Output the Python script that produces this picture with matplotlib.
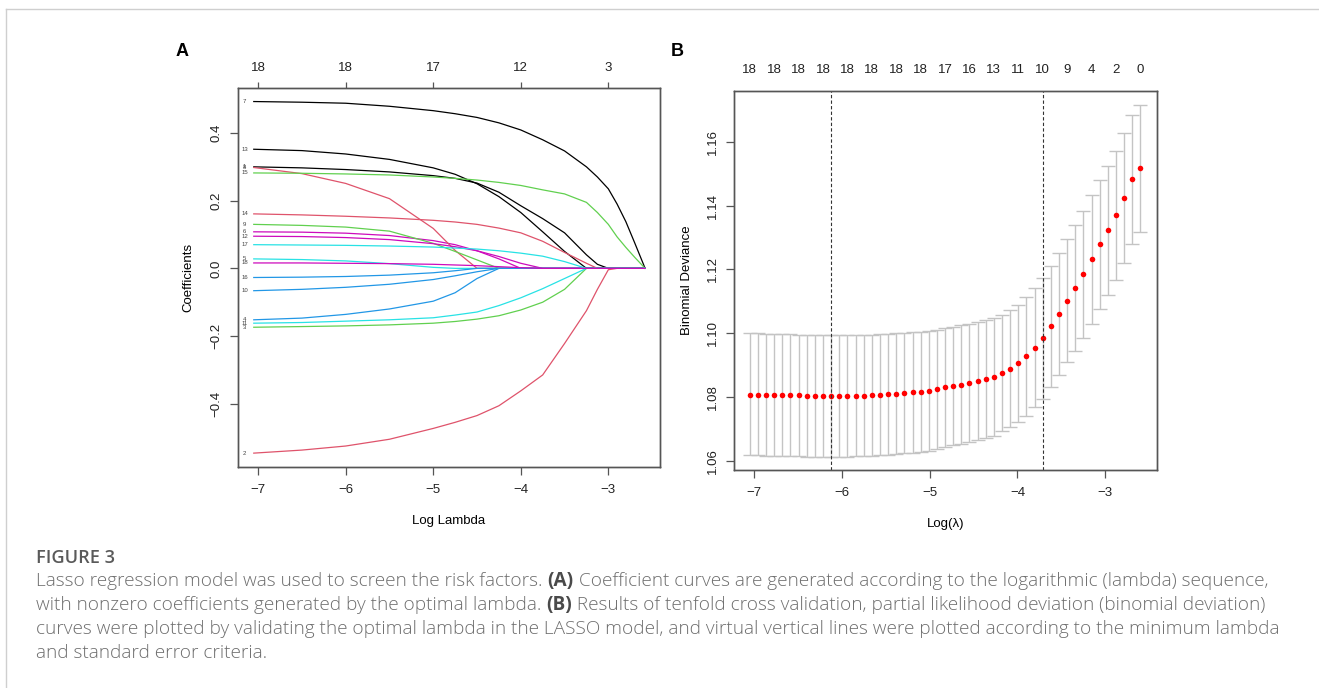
import matplotlib
matplotlib.use("Agg")
import matplotlib.pyplot as plt
from matplotlib.lines import Line2D

W, H = 1319, 688

# ---------- panel A: coefficient paths ----------
path_loglam = [-7.05, -6.5, -6.0, -5.5, -5.0, -4.75, -4.5, -4.25, -4.0, -3.75, -3.5, -3.25,
               -3.125, -3.0, -2.9, -2.8, -2.7, -2.58]
coef_1 = [0.300, 0.297, 0.292, 0.285, 0.274, 0.266, 0.252, 0.225, 0.185, 0.147, 0.105, 0.040, 0.012, 0, 0, 0, 0, 0]
coef_2 = [-0.546, -0.537, -0.525, -0.505, -0.473, -0.455, -0.435, -0.406, -0.362, -0.315, -0.222, -0.125, -0.062, -0.004, 0, 0, 0, 0]
coef_3 = [-0.174, -0.172, -0.170, -0.167, -0.162, -0.157, -0.150, -0.140, -0.123, -0.100, -0.062, 0, 0, 0, 0, 0, 0, 0]
coef_4 = [-0.152, -0.147, -0.136, -0.120, -0.097, -0.072, -0.030, 0, 0, 0, 0, 0, 0, 0, 0, 0, 0, 0]
coef_5 = [0.028, 0.026, 0.022, 0.014, 0.003, 0, 0, 0, 0, 0, 0, 0, 0, 0, 0, 0, 0, 0]
coef_6 = [0.108, 0.107, 0.104, 0.097, 0.082, 0.070, 0.052, 0.028, 0, 0, 0, 0, 0, 0, 0, 0, 0, 0]
coef_7 = [0.493, 0.491, 0.488, 0.479, 0.466, 0.457, 0.446, 0.430, 0.409, 0.380, 0.347, 0.300, 0.270, 0.235, 0.190, 0.138, 0.076, 0]
coef_8 = [0.298, 0.280, 0.251, 0.206, 0.118, 0.053, 0, 0, 0, 0, 0, 0, 0, 0, 0, 0, 0, 0]
coef_9 = [0.130, 0.127, 0.122, 0.110, 0.074, 0.050, 0.025, 0, 0, 0, 0, 0, 0, 0, 0, 0, 0, 0]
coef_10 = [-0.066, -0.062, -0.056, -0.047, -0.033, -0.022, -0.010, 0, 0, 0, 0, 0, 0, 0, 0, 0, 0, 0]
coef_11 = [-0.162, -0.160, -0.156, -0.152, -0.146, -0.138, -0.129, -0.110, -0.087, -0.060, -0.030, 0, 0, 0, 0, 0, 0, 0]
coef_12 = [0.095, 0.094, 0.091, 0.085, 0.073, 0.064, 0.052, 0.035, 0.015, 0, 0, 0, 0, 0, 0, 0, 0, 0]
coef_13 = [0.352, 0.348, 0.338, 0.322, 0.297, 0.278, 0.250, 0.212, 0.165, 0.108, 0.050, 0, 0, 0, 0, 0, 0, 0]
coef_14 = [0.161, 0.158, 0.154, 0.149, 0.142, 0.137, 0.130, 0.119, 0.105, 0.080, 0.047, 0.015, 0, 0, 0, 0, 0, 0]
coef_15 = [0.282, 0.281, 0.279, 0.276, 0.270, 0.266, 0.261, 0.254, 0.245, 0.232, 0.220, 0.195, 0.165, 0.130, 0.093, 0.062, 0.033, 0]
coef_16 = [-0.027, -0.026, -0.024, -0.020, -0.013, -0.007, 0, 0, 0, 0, 0, 0, 0, 0, 0, 0, 0, 0]
coef_17 = [0.070, 0.069, 0.068, 0.066, 0.063, 0.060, 0.057, 0.052, 0.045, 0.036, 0.020, 0, 0, 0, 0, 0, 0, 0]
coef_18 = [0.016, 0.016, 0.015, 0.014, 0.012, 0.010, 0.008, 0.005, 0.002, 0, 0, 0, 0, 0, 0, 0, 0, 0]
coefs = [coef_1, coef_2, coef_3, coef_4, coef_5, coef_6, coef_7, coef_8, coef_9,
         coef_10, coef_11, coef_12, coef_13, coef_14, coef_15, coef_16, coef_17, coef_18]

top_a_at = [-7, -6, -5, -4, -3]
top_a_labels = ["18", "18", "17", "12", "3"]

# ---------- panel B: 10-fold CV binomial deviance ----------
cv_loglam = [-7.050, -6.957, -6.865, -6.772, -6.679, -6.587, -6.494, -6.401, -6.308, -6.216,
             -6.123, -6.030, -5.938, -5.845, -5.752, -5.659, -5.567, -5.474, -5.381, -5.289,
             -5.196, -5.103, -5.010, -4.918, -4.825, -4.732, -4.640, -4.547, -4.454, -4.361,
             -4.269, -4.176, -4.083, -3.991, -3.898, -3.805, -3.712, -3.620, -3.527, -3.434,
             -3.342, -3.249, -3.156, -3.063, -2.971, -2.878, -2.785, -2.693, -2.600]
cv_mean = [1.0807, 1.0807, 1.0806, 1.0806, 1.0806, 1.0805, 1.0805, 1.0804, 1.0804, 1.0803,
           1.0802, 1.0803, 1.0803, 1.0804, 1.0804, 1.0805, 1.0806, 1.0808, 1.0810, 1.0812,
           1.0814, 1.0817, 1.0820, 1.0824, 1.0830, 1.0834, 1.0839, 1.0844, 1.0851, 1.0856,
           1.0863, 1.0876, 1.0889, 1.0906, 1.0927, 1.0954, 1.0984, 1.1021, 1.1059, 1.1101,
           1.1142, 1.1184, 1.1231, 1.1278, 1.1323, 1.1369, 1.1424, 1.1482, 1.1517]
cv_upper = [1.0999, 1.0999, 1.0998, 1.0997, 1.0997, 1.0996, 1.0995, 1.0995, 1.0994, 1.0994,
            1.0993, 1.0993, 1.0993, 1.0994, 1.0994, 1.0995, 1.0996, 1.0997, 1.0999, 1.1001,
            1.1003, 1.1005, 1.1008, 1.1011, 1.1015, 1.1019, 1.1024, 1.1030, 1.1035, 1.1041,
            1.1048, 1.1058, 1.1071, 1.1089, 1.1113, 1.1141, 1.1174, 1.1211, 1.1250, 1.1294,
            1.1339, 1.1382, 1.1432, 1.1480, 1.1525, 1.1572, 1.1628, 1.1684, 1.1714]
cv_lower = [1.0618, 1.0617, 1.0616, 1.0615, 1.0615, 1.0614, 1.0614, 1.0613, 1.0613, 1.0613,
            1.0612, 1.0613, 1.0613, 1.0614, 1.0615, 1.0616, 1.0617, 1.0619, 1.0621, 1.0623,
            1.0625, 1.0628, 1.0632, 1.0637, 1.0642, 1.0648, 1.0653, 1.0659, 1.0666, 1.0672,
            1.0679, 1.0692, 1.0705, 1.0721, 1.0741, 1.0767, 1.0794, 1.0831, 1.0868, 1.0908,
            1.0945, 1.0986, 1.1030, 1.1075, 1.1121, 1.1166, 1.1221, 1.1279, 1.1318]
top_b_labels = ["18", "18", "18", "18", "18", "18", "18", "18", "17",
                "16", "13", "11", "10", "9", "4", "2", "0"]
log_lambda_min = -6.123
log_lambda_1se = -3.712

caption_head = "FIGURE 3"
caption_lines = [
    [("Lasso regression model was used to screen the risk factors. ", False), ("(A)", True),
     (" Coefficient curves are generated according to the logarithmic (lambda) sequence,", False)],
    [("with nonzero coefficients generated by the optimal lambda. ", False), ("(B)", True),
     (" Results of tenfold cross validation, partial likelihood deviation (binomial deviation)", False)],
    [("curves were plotted by validating the optimal lambda in the LASSO model, and virtual vertical lines were plotted according to the minimum lambda", False)],
    [("and standard error criteria.", False)],
]

r_palette = ["#000000", "#DF536B", "#61D04F", "#2297E6", "#28E2E5", "#CD0BBC"]

plt.rcParams["font.family"] = ["Liberation Sans", "DejaVu Sans"]

fig = plt.figure(figsize=(W / 100, H / 100), dpi=100)


def px_axes(left, top, right, bottom):
    return fig.add_axes([left / W, 1 - bottom / H, (right - left) / W, (bottom - top) / H])


def style_box(ax):
    for s in ax.spines.values():
        s.set_color("#555555")
        s.set_linewidth(1.0)
    ax.tick_params(direction="out", length=6, width=0.9, color="#555555",
                   labelsize=9.5, labelcolor="#222222")


# frame of the figure page
fig.add_artist(Line2D([6 / W, 1], [1 - 9 / H, 1 - 9 / H], color="#cfcfcf", lw=1.0))
fig.add_artist(Line2D([6 / W, 6 / W], [0, 1 - 9 / H], color="#cfcfcf", lw=1.0))

# ---------- A ----------
axA = px_axes(238, 88, 660, 467)
for i, c in enumerate(coefs):
    axA.plot(path_loglam, c, color=r_palette[i % 6], lw=0.9)
    axA.text(-7.155, c[0], str(i + 1), fontsize=4.3, color="#444444", ha="center", va="center")
axA.set_xlim(-7.23, -2.41)
axA.set_ylim(-0.587, 0.533)
axA.set_xticks([-7, -6, -5, -4, -3])
axA.set_xticklabels(["\u22127", "\u22126", "\u22125", "\u22124", "\u22123"])
axA.set_yticks([-0.4, -0.2, 0.0, 0.2, 0.4])
axA.set_yticklabels(["\u22120.4", "\u22120.2", "0.0", "0.2", "0.4"], rotation=90, va="center")
style_box(axA)
axA.tick_params(axis="x", pad=6)
axA.tick_params(axis="y", pad=5)
axA.set_xlabel("Log Lambda", fontsize=9.5, labelpad=14)
axA.set_ylabel("Coefficients", fontsize=9.5, labelpad=12)
topA = axA.twiny()
topA.set_xlim(axA.get_xlim())
topA.set_xticks(top_a_at)
topA.set_xticklabels(top_a_labels)
style_box(topA)
topA.tick_params(axis="x", length=4, pad=6)
fig.text(182 / W, 1 - 52 / H, "A", fontsize=13, fontweight="bold", ha="center", va="center")

# ---------- B ----------
axB = px_axes(734, 91, 1157, 470)
yerr = [[m - lo for m, lo in zip(cv_mean, cv_lower)], [up - m for m, up in zip(cv_mean, cv_upper)]]
axB.errorbar(cv_loglam, cv_mean, yerr=yerr, fmt="none", ecolor="#c4c4c4",
             elinewidth=1.0, capsize=5, capthick=1.0)
axB.plot(cv_loglam, cv_mean, "o", color="#ff0000", ms=4.0, mec="none")
for v in (log_lambda_min, log_lambda_1se):
    axB.axvline(v, color="#333333", lw=0.8, ls=(0, (3, 2)))
axB.set_xlim(-7.23, -2.41)
axB.set_ylim(1.0571, 1.1759)
axB.set_xticks([-7, -6, -5, -4, -3])
axB.set_xticklabels(["\u22127", "\u22126", "\u22125", "\u22124", "\u22123"])
axB.set_yticks([1.06, 1.08, 1.10, 1.12, 1.14, 1.16])
axB.set_yticklabels(["1.06", "1.08", "1.10", "1.12", "1.14", "1.16"], rotation=90, va="center")
style_box(axB)
axB.tick_params(axis="x", pad=6)
axB.tick_params(axis="y", pad=5)
axB.set_xlabel("Log(\u03bb)", fontsize=9.5, labelpad=14)
axB.set_ylabel("Binomial Deviance", fontsize=9.5, labelpad=10)
topB = axB.twiny()
topB.set_xlim(axB.get_xlim())
topB.set_xticks(cv_loglam[::3])
topB.set_xticklabels(top_b_labels)
style_box(topB)
topB.tick_params(axis="x", length=0, pad=11)
fig.text(677 / W, 1 - 52 / H, "B", fontsize=13, fontweight="bold", ha="center", va="center")

# ---------- caption ----------
renderer = fig.canvas.get_renderer()
cap_left, cap_right = 36, 1268


def draw_parts(parts, y_px, size, draw=True):
    x = cap_left
    made = []
    for txt, bold in parts:
        t = fig.text(x / W, 1 - y_px / H, txt, fontsize=size, family=["Open Sans", "DejaVu Sans"],
                     fontweight="bold" if bold else "light",
                     color="#4a4a4a" if bold else "#6e6e6e", ha="left", va="center")
        x += t.get_window_extent(renderer).width
        made.append(t)
    if not draw:
        for t in made:
            t.remove()
    return x - cap_left


w0 = draw_parts(caption_lines[0], 580, 10, draw=False)
cap_size = 10 * (cap_right - cap_left) / w0
fig.text(cap_left / W, 1 - 558 / H, caption_head, fontsize=cap_size * 0.95,
         family=["Open Sans", "DejaVu Sans"], fontweight="semibold", color="#5a5a5a",
         ha="left", va="center")
for j, parts in enumerate(caption_lines):
    draw_parts(parts, 581 + 24 * j, cap_size)

fig.savefig("out.png", dpi=100)
